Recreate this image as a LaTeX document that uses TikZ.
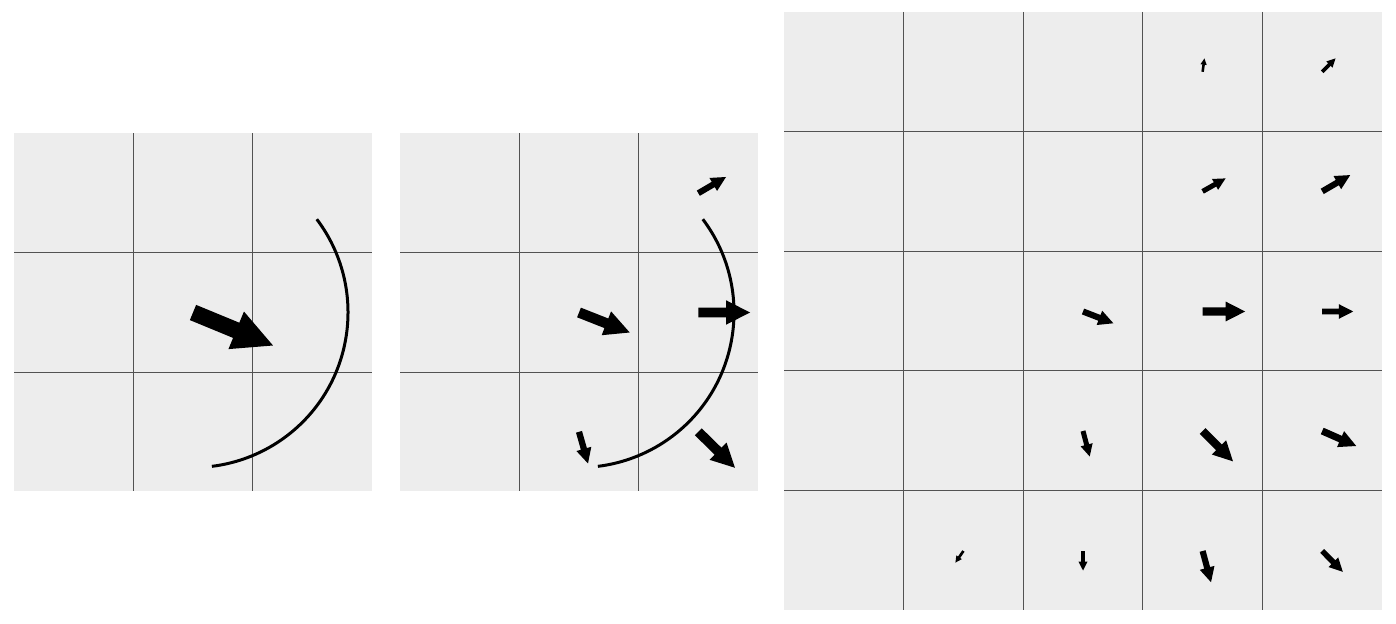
\documentclass[tikz,border=0pt]{standalone}
\usetikzlibrary{calc}
\tikzset{
  cellbg/.style={fill=black!7, draw=none},
  gridline/.style={draw=black!68, line width=0.65pt},
  orbit/.style={draw=black, line width=1.5pt},
  qfill/.style={fill=black, draw=none},
}
% quiver arrow: tail x, tail y, dx, dy  (pixel units, y downwards)
\newcommand\qarrow[4]{%
  \pgfmathsetmacro\qang{atan2(-(#4),(#3))}%
  \pgfmathsetmacro\qlen{veclen((#3),(#4))}%
  \begin{scope}[shift={(#1,#2)},rotate=\qang,scale=\qlen]
    \fill[qfill] (0,0.095) -- (0.54,0.095) -- (0.54,0.235) -- (1,0) -- (0.54,-0.235)
      -- (0.54,-0.095) -- (0,-0.095) -- cycle;
  \end{scope}}
\begin{document}
\begin{tikzpicture}[x=0.5pt,y=-0.5pt]
\useasboundingbox (0,0) rectangle (1396,624);
% ---------- panel 1 ----------
\fill[cellbg] (14,133.5) rectangle (372,491.5);
\foreach \k in {1,2}{
  \draw[gridline] ({14+119.333*\k},133.5) -- ({14+119.333*\k},491.5);
  \draw[gridline] (14,{133.5+119.333*\k}) -- (372,{133.5+119.333*\k});
}
\coordinate (c1) at (193,312.5);
\draw[orbit] (c1) ++(-37:155) arc[start angle=-37, end angle=83, radius=155];
\qarrow{193}{312.5}{80}{33}
% ---------- panel 2 ----------
\fill[cellbg] (400,133.5) rectangle (758,491.5);
\foreach \k in {1,2}{
  \draw[gridline] ({400+119.333*\k},133.5) -- ({400+119.333*\k},491.5);
  \draw[gridline] (400,{133.5+119.333*\k}) -- (758,{133.5+119.333*\k});
}
\coordinate (c2) at (579,312.5);
\draw[orbit] (c2) ++(-37:155) arc[start angle=-37, end angle=83, radius=155];
\qarrow{579}{312.5}{50.7}{20}
\qarrow{698.3}{193.2}{27.7}{-16.2}
\qarrow{698.3}{312.5}{51.7}{0}
\qarrow{698.3}{431.8}{36.7}{36}
\qarrow{579}{431.8}{9}{31.7}
% ---------- panel 3 ----------
\fill[cellbg] (784,12) rectangle (1382,610);
\foreach \k in {1,...,4}{
  \draw[gridline] ({784+119.6*\k},12) -- ({784+119.6*\k},610);
  \draw[gridline] (784,{12+119.6*\k}) -- (1382,{12+119.6*\k});
}
% row 1
\qarrow{1202.6}{71.8}{1.8}{-13.3}
\qarrow{1322.2}{71.8}{13.3}{-13.4}
% row 2
\qarrow{1202.6}{191.4}{23}{-13}
\qarrow{1322.2}{191.4}{28}{-16.3}
% row 3
\qarrow{1083}{311.5}{30.4}{11.8}
\qarrow{1202.6}{311.5}{42.5}{0}
\qarrow{1322.2}{311.5}{31}{0}
% row 4
\qarrow{1083}{431}{6.7}{25.5}
\qarrow{1202.6}{431}{30.4}{30.4}
\qarrow{1322.2}{431}{34}{15}
% row 5
\qarrow{963.4}{551}{-8}{11.6}
\qarrow{1083}{551}{0}{19.5}
\qarrow{1202.6}{551}{8.4}{31.2}
\qarrow{1322.2}{551}{20.6}{20.8}
\end{tikzpicture}
\end{document}
